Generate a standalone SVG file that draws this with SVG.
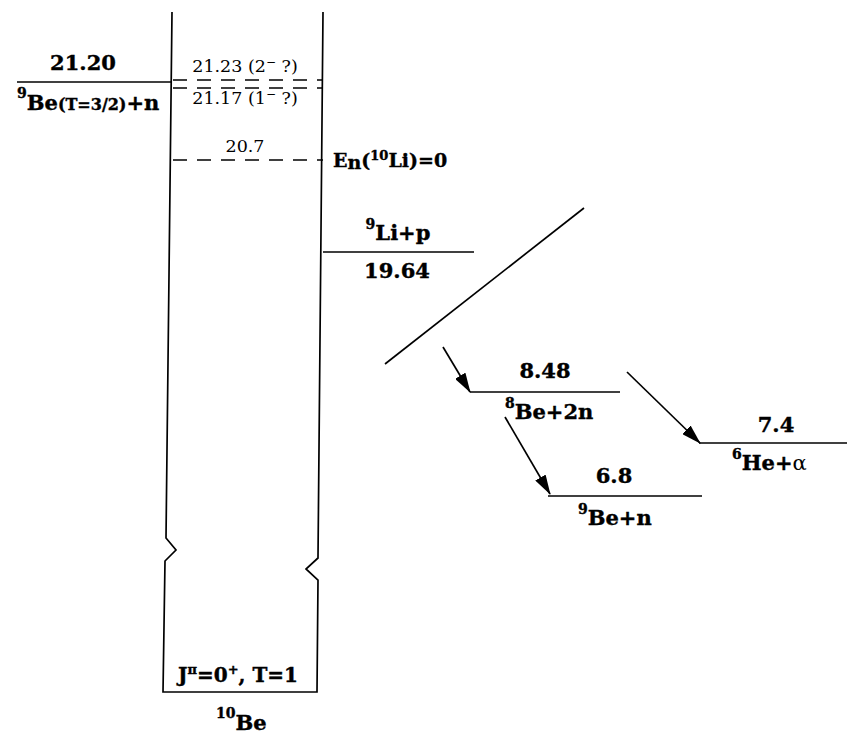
<svg xmlns="http://www.w3.org/2000/svg" width="847" height="738" viewBox="0 0 847 738">
<style>
.ln{stroke:#000;stroke-width:1.7;fill:none}
.dash{stroke:#000;stroke-width:1.5;fill:none;stroke-dasharray:14 10}
.b{font-family:"DejaVu Serif","Liberation Serif",serif;font-weight:bold;fill:#000;stroke:#000;stroke-width:0.4}
.n{font-family:"DejaVu Serif","Liberation Serif",serif;font-weight:normal;fill:#000}
</style>
<defs>
<marker id="ah" viewBox="0 0 20 12" refX="19" refY="6" markerWidth="20" markerHeight="12" markerUnits="userSpaceOnUse" orient="auto">
<path d="M0,0 L20,6 L0,12 Z" fill="#000"/>
</marker>
</defs>
<rect width="847" height="738" fill="#fff"/>

<g id="be10-level-scheme">
<polyline class="ln" points="172,12 166,538 176,550 165,561 163,692 317,692 318,580 306,569 318,558 323,12"/>
</g>

<g id="level-21-20">
<line class="ln" x1="17" y1="82" x2="172" y2="82"/>
<text class="b" x="83" y="70" font-size="21" text-anchor="middle">21.20</text>
<text class="b" x="17" y="110" font-size="21"><tspan font-size="14" dy="-12">9</tspan><tspan dy="12">Be</tspan><tspan font-size="16">(T=3/2)</tspan>+n</text>
</g>

<g id="level-21-23">
<line class="dash" x1="173" y1="80" x2="323" y2="80"/>
<text class="n" x="245" y="72" font-size="17.5" text-anchor="middle">21.23 (2<tspan font-size="12" dy="-6">−</tspan><tspan dy="6"> ?)</tspan></text>
</g>

<g id="level-21-17">
<line class="dash" x1="173" y1="88" x2="323" y2="88"/>
<text class="n" x="245" y="104" font-size="17.5" text-anchor="middle">21.17 (1<tspan font-size="12" dy="-6">−</tspan><tspan dy="6"> ?)</tspan></text>
</g>

<g id="level-20-7">
<line class="dash" x1="173" y1="160" x2="323" y2="160"/>
<text class="n" x="245" y="152" font-size="17.5" text-anchor="middle">20.7</text>
<text class="b" x="333" y="167" font-size="19">E<tspan dy="2">n</tspan><tspan dy="-2">(</tspan><tspan font-size="13" dy="-7">10</tspan><tspan dy="7">Li)=0</tspan></text>
</g>

<g id="level-19-64">
<line class="ln" x1="323" y1="252" x2="474" y2="252"/>
<text class="b" x="398" y="240" font-size="21" text-anchor="middle"><tspan font-size="14" dy="-11">9</tspan><tspan dy="11">Li+p</tspan></text>
<text class="b" x="397" y="278" font-size="21" text-anchor="middle">19.64</text>
</g>

<g id="level-8-48">
<line class="ln" x1="470" y1="392" x2="620" y2="392"/>
<text class="b" x="545" y="378" font-size="21" text-anchor="middle">8.48</text>
<text class="b" x="505" y="419" font-size="21"><tspan font-size="14" dy="-11">8</tspan><tspan dy="11">Be+2n</tspan></text>
</g>

<g id="level-6-8">
<line class="ln" x1="548" y1="496" x2="702" y2="496"/>
<text class="b" x="614" y="483" font-size="21" text-anchor="middle">6.8</text>
<text class="b" x="578" y="525" font-size="21"><tspan font-size="14" dy="-11">9</tspan><tspan dy="11">Be+n</tspan></text>
</g>

<g id="level-7-4">
<line class="ln" x1="699" y1="443" x2="847" y2="443"/>
<text class="b" x="776" y="432" font-size="21" text-anchor="middle">7.4</text>
<text class="b" x="732" y="470" font-size="21"><tspan font-size="14" dy="-11">6</tspan><tspan dy="11">He+</tspan><tspan font-weight="normal" stroke-width="0">α</tspan></text>
</g>

<g id="ground-state">
<text class="b" x="238" y="682" font-size="20" text-anchor="middle">J<tspan font-size="13" dy="-8">π</tspan><tspan dy="8">=0</tspan><tspan font-size="13" dy="-8">+</tspan><tspan dy="8">, T=1</tspan></text>
<text class="b" x="216" y="730" font-size="21"><tspan font-size="14" dy="-12">10</tspan><tspan dy="12">Be</tspan></text>
</g>

<g id="connectors">
<line class="ln" x1="385" y1="364" x2="584" y2="208"/>
<line class="ln" x1="443" y1="347" x2="470" y2="392" marker-end="url(#ah)"/>
<line class="ln" x1="505" y1="417" x2="550" y2="494" marker-end="url(#ah)"/>
<line class="ln" x1="627" y1="372" x2="700" y2="443" marker-end="url(#ah)"/>
</g>
</svg>
